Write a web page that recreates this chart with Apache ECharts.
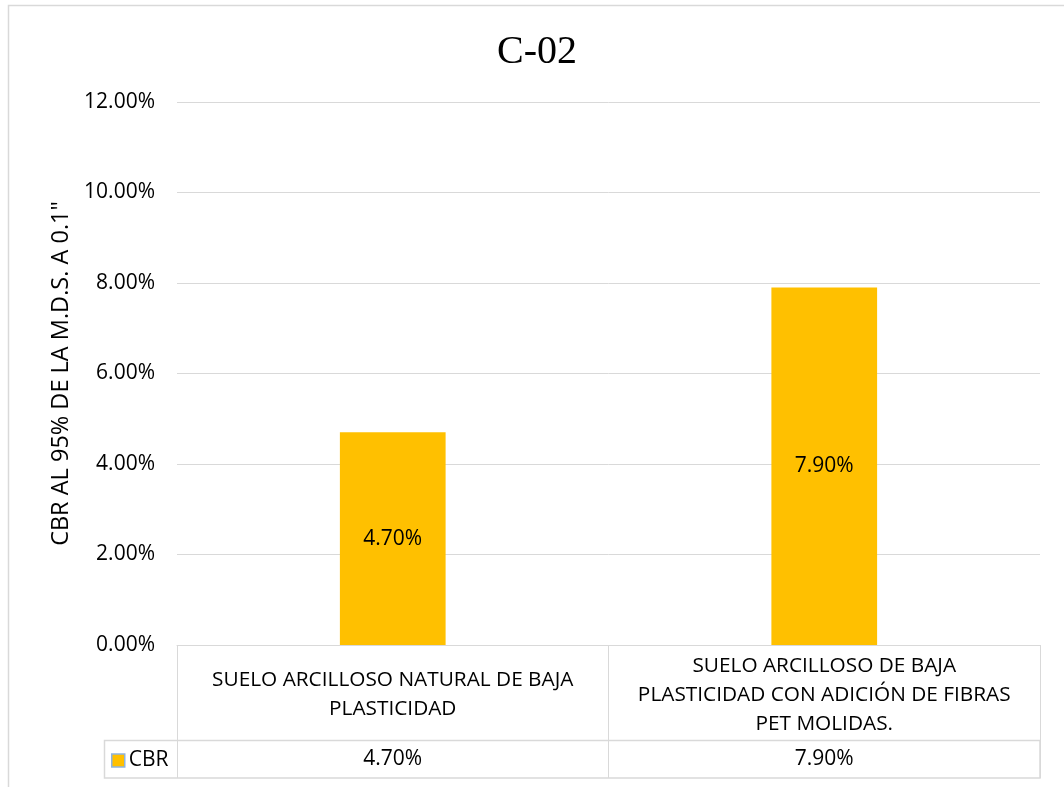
<!DOCTYPE html>
<html>
<head>
<meta charset="utf-8">
<title>C-02</title>
<script src="https://cdn.jsdelivr.net/npm/echarts@6/dist/echarts.min.js"></script>
<style>
  html, body { margin: 0; padding: 0; background: #ffffff; }
  #chart { width: 1064px; height: 787px; }
</style>
</head>
<body>
<div id="chart"></div>
<script>
// Soil samples compared in the CBR test
const categories = [
  'SUELO ARCILLOSO NATURAL DE BAJA\nPLASTICIDAD',
  'SUELO ARCILLOSO DE BAJA\nPLASTICIDAD CON ADICIÓN DE FIBRAS\nPET MOLIDAS.'
];
const seriesName = 'CBR';
const cbrValues = [4.70, 7.90];           // percent
const yTicks = { min: 0, max: 12, step: 2 };
const titleText = 'C-02';
const yAxisTitle = 'CBR AL 95% DE LA M.D.S. A 0.1"';

const pct = v => Number(v).toFixed(2) + '%';
const FONT = '"Open Sans", "Noto Sans", sans-serif';
const GRID_COLOR = '#d9d9d9';
const BAR_COLOR = '#FFC000';

const chart = echarts.init(document.getElementById('chart'), null, { renderer: 'canvas' });

chart.setOption({
  backgroundColor: '#ffffff',
  animation: false,
  title: {
    text: titleText,
    left: 492,
    top: 27,
    textStyle: { fontFamily: '"Liberation Serif", "Times New Roman", serif', fontSize: 40, fontWeight: 'normal', color: '#000' }
  },
  legend: {
    data: [{ name: seriesName, itemStyle: { color: BAR_COLOR, borderColor: '#8fb4e0', borderWidth: 1.5 } }],
    left: 106,
    top: 745,
    icon: 'rect',
    itemWidth: 13,
    itemHeight: 13,
    itemGap: 5,
    textStyle: { fontFamily: FONT, fontSize: 21, color: '#000', padding: [0, 0, 0, -1] }
  },
  grid: { left: 177, right: 24, top: 102, bottom: 142, containLabel: false },
  xAxis: [
    {
      // category row of the data table
      type: 'category',
      data: categories,
      position: 'bottom',
      axisLine: { show: true, lineStyle: { color: GRID_COLOR, width: 1 } },
      axisTick: { show: true, length: 95, lineStyle: { color: GRID_COLOR, width: 1 } },
      axisLabel: {
        interval: 0,
        margin: 50,
        verticalAlign: 'middle',
        fontFamily: FONT,
        fontSize: 20.8,
        lineHeight: 29,
        color: '#000'
      }
    },
    {
      // value row of the data table
      type: 'category',
      data: cbrValues.map(pct),
      position: 'bottom',
      offset: 95,
      axisLine: { show: true, lineStyle: { color: GRID_COLOR, width: 1 } },
      axisTick: { show: true, length: 38, lineStyle: { color: GRID_COLOR, width: 1 } },
      axisLabel: {
        interval: 0,
        margin: 19,
        verticalAlign: 'middle',
        fontFamily: FONT,
        fontSize: 21,
        color: '#000'
      }
    }
  ],
  yAxis: {
    type: 'value',
    min: yTicks.min,
    max: yTicks.max,
    interval: yTicks.step,
    name: yAxisTitle,
    nameLocation: 'middle',
    nameGap: 104,
    nameTextStyle: { fontFamily: FONT, fontSize: 23.5, color: '#000' },
    axisLine: { show: false },
    axisTick: { show: false },
    splitLine: { lineStyle: { color: GRID_COLOR, width: 1 } },
    axisLabel: {
      margin: 22,
      fontFamily: FONT,
      fontSize: 21,
      color: '#000',
      formatter: v => pct(v)
    }
  },
  series: [{
    name: seriesName,
    type: 'bar',
    xAxisIndex: 0,
    data: cbrValues,
    barWidth: '24.5%',
    itemStyle: { color: BAR_COLOR },
    label: {
      show: true,
      position: 'inside',
      fontFamily: FONT,
      fontSize: 21,
      color: '#000',
      formatter: p => pct(p.value)
    }
  }],
  graphic: [
    {
      // legend cell and bottom edge of the data table
      type: 'rect',
      shape: { x: 104.5, y: 740.5, width: 935.5, height: 37.5 },
      style: { fill: 'none', stroke: GRID_COLOR, lineWidth: 1.5 },
      silent: true
    },
    {
      // chart area border
      type: 'rect',
      shape: { x: 8.5, y: 5.5, width: 1200, height: 1000 },
      style: { fill: 'none', stroke: GRID_COLOR, lineWidth: 1.5 },
      silent: true
    }
  ]
});
</script>
</body>
</html>
